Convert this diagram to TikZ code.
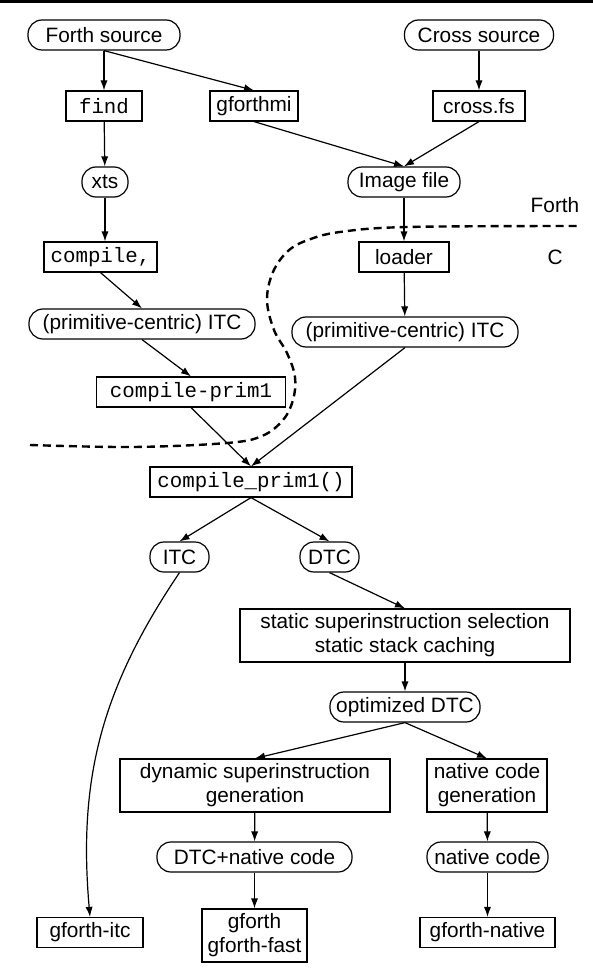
\documentclass[tikz,border=0pt]{standalone}
\usepackage{fontspec}
\setmainfont{Liberation Sans}
\setmonofont{Liberation Mono}
\usetikzlibrary{arrows.meta}

\tikzset{
  proc/.style={draw, rectangle, line width=0.6pt, minimum height=15pt, inner xsep=2pt, inner ysep=1pt, align=center},
  data/.style={draw, rectangle, rounded corners=7pt, line width=0.6pt, minimum height=15pt, inner xsep=2pt, inner ysep=1pt},
  flow/.style={->, line width=0.6pt},
}

\begin{document}
\begin{tikzpicture}[x=0.5pt, y=-0.5pt, >={Latex[length=5pt,width=3.6pt]}, font=\fontsize{10.4}{12}\selectfont]

\useasboundingbox (0,0) rectangle (593,973);

\draw [line width=1.5pt] (0,1.5) -- (593,1.5);

% Forth side
\node (fsrc) at (104,35) [data, minimum width=76pt] {Forth source};
\node (find) at (104,106) [proc, minimum width=38pt] {\texttt{find}};
\node (gmi) at (254,106) [proc, minimum width=44pt] {gforthmi};
\node (xts) at (105,182) [data, minimum width=23pt] {xts};
\node (compile) at (100.5,257) [proc, minimum width=56.5pt] {\texttt{compile,}};
\node (itcl) at (142,324) [data, minimum width=113pt] {(primitive-centric) ITC};
\node (cprim) at (191,392) [proc, minimum width=94.5pt] {\texttt{compile-prim1}};

% cross compiler side
\node (csrc) at (479,35) [data, minimum width=74.5pt] {Cross source};
\node (crossfs) at (479,106) [proc, minimum width=46pt] {cross.fs};
\node (image) at (404,182) [data, minimum width=56pt] {Image file};
\node (loader) at (404,257) [proc, minimum width=45pt] {loader};
\node (itcr) at (405,332) [data, minimum width=113pt] {(primitive-centric) ITC};

\node (forthlbl) at (555,205) {Forth};
\node (clbl) at (555,257) {C};

\draw [dashed, line width=1.2pt, dash pattern=on 4pt off 2.5pt] plot [smooth, tension=0.6] coordinates {(30,445) (133,447) (227,443) (262,436) (283,420) (293,400) (295,377) (287,353) (274,330) (267,300) (273,272) (288,251) (308,240) (340,232) (407,227) (577,226)};

% C side
\node (cprimc) at (251,482) [proc, minimum width=101pt] {\texttt{compile\_prim1()}};
\node (itc) at (179.5,557) [data, minimum width=29.5pt] {ITC};
\node (dtc) at (329.5,557) [data, minimum width=29.5pt] {DTC};
\node (static) at (405,635.5) [proc, minimum width=165pt, minimum height=26.5pt] {static superinstruction selection\\static stack caching};
\node (opt) at (405,707) [data, minimum width=75pt] {optimized DTC};
\node (dyn) at (255,785.5) [proc, minimum width=135pt, minimum height=26.5pt] {dynamic superinstruction\\generation};
\node (ncgen) at (487,785.5) [proc, minimum width=60pt, minimum height=26.5pt] {native code\\generation};
\node (dtcn) at (254.5,857) [data, minimum width=97.5pt] {DTC+native code};
\node (nc) at (487.5,857) [data, minimum width=60.5pt] {native code};
\node (gitc) at (90,932.5) [proc, minimum width=53pt] {gforth-itc};
\node (gfast) at (254.5,935.5) [proc, minimum width=52.5pt, minimum height=26.5pt] {gforth\\gforth-fast};
\node (gnat) at (487.5,932.5) [proc, minimum width=67.5pt] {gforth-native};

\draw [flow] (fsrc.south) -- (find.north);
\draw [flow] (fsrc.south) -- (gmi.north);
\draw [flow] (csrc) -- (crossfs);
\draw [flow] (gmi.south) -- (image.north);
\draw [flow] (crossfs.south) -- (image.north);
\draw [flow] (find) -- (xts);
\draw [flow] (xts.south) -- (xts.south |- compile.north);
\draw [flow] (image) -- (loader);
\draw [flow] (loader) -- (itcr);
\draw [flow] (compile.south) -- (itcl.north);
\draw [flow] (itcl.south) -- (cprim.north);
\draw [flow] (cprim.south) -- (cprimc.north);
\draw [flow] (itcr.south) -- (cprimc.north);
\draw [flow] (cprimc.south) -- (itc.north);
\draw [flow] (cprimc.south) -- (dtc.north);
\draw [flow] (dtc.south) -- (static.north);
\draw [flow] (static) -- (opt);
\draw [flow] (opt.south) -- (dyn.north);
\draw [flow] (opt.south) -- (ncgen.north);
\draw [flow] (dyn) -- (dtcn);
\draw [flow] (ncgen) -- (nc);
\draw [flow] (dtcn) -- (gfast);
\draw [flow] (nc) -- (gnat);
\draw [flow] (itc.south) to [out=-124, in=95] (gitc.north);

\end{tikzpicture}
\end{document}
